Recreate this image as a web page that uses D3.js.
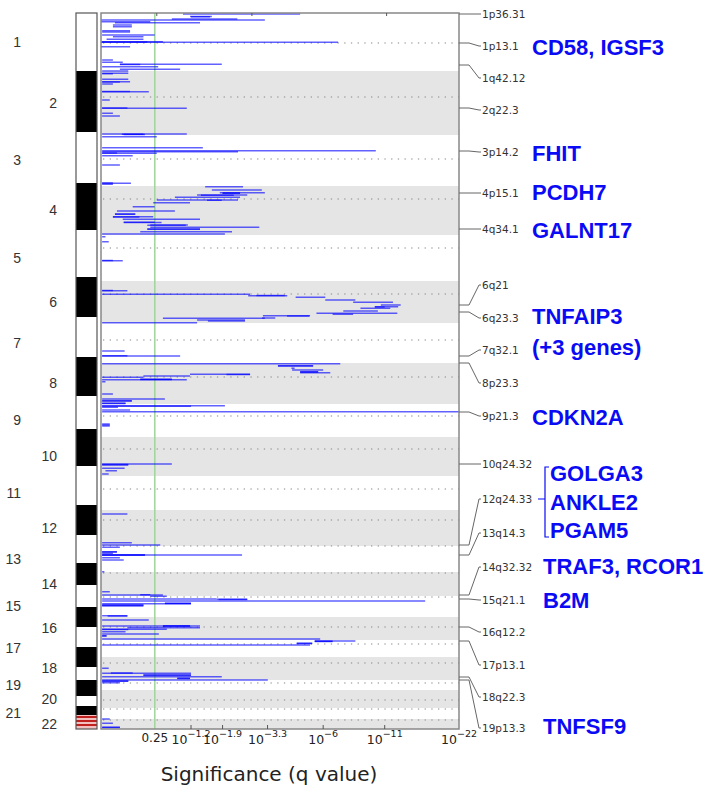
<!DOCTYPE html>
<html>
<head>
<meta charset="utf-8">
<script src="https://cdn.jsdelivr.net/npm/d3@7"></script>
<style>
body{margin:0;background:#fff;}
svg text{font-family:"DejaVu Sans",sans-serif;}
</style>
</head>
<body>
<svg id="chart" width="712" height="792"></svg>
<script>
// genome position in marker units (0..2864), score = -log10(q)
var chromEnds=[232,488,692,888,1072,1240,1400,1564,1696,1852,1988,2132,2236,2332,2416,2508,2576,2668,2708,2780,2824,2864];
var centromeres=[120,336,584,744,940,1124,1308,1456,1612,1744,1904,2028,2132,2240,2336,2456,2524,2600,2680,2748,2784,2828];
var ideoEnds=[232,476,680,868,1056,1216,1376,1532,1664,1812,1968,2088,2200,2288,2376,2456,2536,2616,2668,2732,2772,2808];
var ideoStripes=[2816,2832,2848];

// [position, score from, score to]
var segs=[
 [4,1.05,4.72],[14,1.18,1.64],[15,1.2,1.6],[24,0.86,2.3],[28,0,3.2],[35,0,0.54],[39,0.13,1.38],[48,0.11,0.31],[55,0.11,0.31],
 [71,0.01,0.29],[76,0.01,0.29],[88,0.01,0.6],[95,0.11,0.45],[105,0.05,0.45],[115,0.01,0.72],[116,0,0.5],[117,0,6.98],[135,0,0.29],
 [188,0.01,0.11],[197,0.01,0.21],[205,0.18,1.88],[206,0.18,0.41],[215,0.01,0.65],[225,0.18,1.0],[232,0.01,0.27],
 [241,0.01,0.27],[243,0.01,0.11],[265,0.01,0.27],[275,0.01,0.29],[276,0.01,0.18],[284,0.01,0.11],[314,0.01,0.29],[315,0.01,0.52],
 [348,0.01,0.08],[380,0.01,0.26],[381,0.01,1.12],[401,0.01,0.11],[412,0.01,0.18],
 [484,0.01,1.12],[485,0.2,0.45],[486,0.22,0.47],[495,0.01,0.63],[539,0.01,1.44],[551,0.01,10.1],[555,0.01,2.32],[560,0.01,0.15],
 [561,0.01,0.63],[571,0.01,0.32],[608,0.01,0.18],[680,0.01,0.11],[681,0.01,0.3],[685,0.01,0.11],
 [695,1.49,2.47],[708,1.64,3.09],[719,1.83,3.2],[720,1.9,2.38],[721,1.9,2.38],[728,1.32,2.6],[729,1.4,2.2],[737,0.91,2.38],
 [748,0.63,2.32],[749,1.53,1.88],[759,0.58,1.18],[775,0.32,0.6],[792,0.15,0.91],[804,0.13,0.35],[805,0.13,0.35],[815,0.11,0.58],
 [816,0.11,0.4],[825,0.21,1.38],[837,0.22,0.6],[838,0.22,0.7],[848,0.54,1.14],[849,0.5,1.1],[857,0.54,3.0],[864,0.5,1.38],
 [865,0.5,1.38],[875,0.41,2.15],[884,0.01,1.96],[895,0.01,0.04],[915,0.01,0.07],
 [990,0.01,0.11],[991,0.01,0.21],
 [1110,0.01,0.11],[1111,0.01,0.26],[1125,0.01,2.69],[1130,2.9,4.0],[1131,2.63,4.11],[1137,4.5,6.13],[1148,6.13,8.28],
 [1157,8.1,11.9],[1168,10.6,12.8],[1175,10.0,12.5],[1176,10.0,11.0],[1181,8.7,11.6],[1192,7.35,10.3],[1201,5.6,12.4],
 [1205,6.6,8.1],[1211,3.13,5.24],[1212,4.1,5.2],[1220,3.1,3.6],[1221,0.72,3.2],[1228,1.32,2.53],[1232,1.55,2.53],[1239,0.01,1.32],
 [1352,0.01,0.23],[1371,0.01,0.26],[1372,0.01,1.0],
 [1403,0.01,7.13],[1411,3.71,5.41],[1412,3.71,5.41],[1421,4.3,4.45],[1428,4.33,6.0],[1435,4.72,5.7],[1436,4.72,5.7],
 [1439,4.72,6.45],[1445,1.18,2.69],[1446,2.0,2.69],[1452,0.45,1.18],[1457,0.01,0.45],[1465,0.41,0.86],[1466,0.41,0.86],
 [1467,0.01,1.12],[1475,0.01,0.04],[1524,0.01,0.11],[1544,0.01,0.75],[1551,0.01,0.31],[1552,0.01,0.31],[1561,0.01,0.24],
 [1562,0.01,0.24],[1571,0.01,1.96],[1573,0.01,1.2],
 [1577,0.01,0.16],[1588,0.01,0.29],[1595,0.01,22],[1644,0.01,0.08],[1648,0.01,0.08],[1652,0.01,0.08],
 [1804,0.01,0.86],[1806,0.01,0.27],[1808,0.01,0.27],[1821,0.01,0.23],[1831,0.04,0.15],[1844,0.01,0.07],
 [2004,0.01,0.26],[2119,0.01,0.31],[2128,0.01,0.68],
 [2137,0.01,0.18],[2155,0.01,0.15],[2156,0.01,0.15],[2161,0.01,0.11],[2167,0.01,0.47],[2168,0.01,2.44],[2169,0.01,0.47],
 [2179,0.01,0.18],[2188,0.01,0.22],[2235,0.01,0.03],
 [2315,0.01,0.08],[2327,0.41,0.54],[2328,0.01,0.72],
 [2333,0.54,0.78],[2344,0.01,1.75],[2345,1.75,2.6],[2346,1.8,2.6],[2352,0.01,16.1],[2361,0.75,1.2],[2362,0.75,1.2],
 [2363,0.01,1.2],[2368,0.01,0.45],[2369,0.01,0.45],[2372,0.01,0.45],
 [2411,0.01,0.26],[2412,0.06,0.26],[2428,0.01,0.52],[2451,0.72,1.18],[2452,0.01,1.38],[2453,0.72,1.18],[2459,0.26,1.38],
 [2465,0.01,0.78],[2466,0.01,0.27],[2475,0.01,0.24],[2484,0.01,0.66],[2491,0.01,0.05],[2492,0.01,0.05],
 [2504,0.01,5.82],[2512,5.5,8.28],[2513,5.5,6.6],[2514,5.5,6.6],[2521,4.55,5.36],[2522,4.55,5.36],[2528,0.01,5.24],
 [2621,0.01,0.07],[2640,0.09,0.32],[2641,0.01,1.2],[2648,0.45,1.2],[2649,0.45,1.2],[2655,0.01,1.88],[2661,0.95,1.18],
 [2662,0.95,1.18],[2668,0.01,3.31],[2672,0.01,0.27],[2673,0.01,0.27],
 [2679,0.01,0.18],
 [2824,0.01,0.08],[2841,0.01,0.11],[2857,0.01,0.18],[2858,0.01,0.18]
];

// [cytoband, peak position, label position]
var peaks=[
 ['1p36.31',4,4],['1p13.1',120,132],['1q42.12',208,260],['2q22.3',380,388],['3p14.2',552,556],
 ['4p15.1',720,720],['4q34.1',864,864],['6q21',1168,1088],['6q23.3',1196,1220],['7q32.1',1372,1348],
 ['8p23.3',1400,1480],['9p21.3',1596,1612],['10q24.32',1804,1804],['12q24.33',2128,1944],['13q14.3',2168,2080],
 ['14q32.32',2328,2216],['15q21.1',2344,2348],['16q12.2',2456,2476],['17p13.1',2512,2608],['18q22.3',2656,2736],
 ['19p13.3',2668,2860]
];
var genes=[
 ['CD58, IGSF3',136,0],['FHIT',560,0],['PCDH7',716,0],['GALNT17',868,0],['TNFAIP3',1212,0],['(+3 genes)',1336,0],
 ['CDKN2A',1616,0],['GOLGA3',1840,2],['ANKLE2',1956,2],['PGAM5',2068,2],['TRAF3, RCOR1',2212,1],['B2M',2348,1],['TNFSF9',2852,1]
];
var qThreshold=0.602;
var qTicks=[1.2,1.9,3.3,6,11,22];
var qTickLabels=['−1.2','−1.9','−3.3','−6','−11','−22'];
var topTicks=[0.63,2.75,11.2];

var svg=d3.select('#chart');
var pLeft=101,pRight=459,pTop=13,pBottom=729;

var y=d3.scaleLinear().domain([0,2864]).range([pTop,pBottom]);
var x=d3.scaleSymlog().constant(1).domain([0,22]).range([pLeft,pRight]);

var chroms=chromEnds.map(function(e,i){
    return {n:i+1,start:i==0?0:chromEnds[i-1],end:e};
});

// gray bands for even chromosomes
svg.append('g').selectAll('rect')
.data(chroms.filter(function(d){return d.n%2==0;}))
.enter().append('rect')
.attr('x',pLeft).attr('width',pRight-pLeft)
.attr('y',function(d){return y(d.start);})
.attr('height',function(d){return y(d.end)-y(d.start);})
.style('fill','#e5e5e5');

// centromere dotted lines
svg.append('g').selectAll('line')
.data(centromeres).enter().append('line')
.attr('x1',pLeft+2).attr('x2',pRight)
.attr('y1',function(d){return y(d);}).attr('y2',function(d){return y(d);})
.style('stroke','#888').style('stroke-width',1.2).style('stroke-dasharray','1.3,5.4');

// q = 0.25 line
svg.append('line')
.attr('x1',x(qThreshold)).attr('x2',x(qThreshold))
.attr('y1',pTop).attr('y2',pBottom)
.style('stroke','#9fd49a').style('stroke-width',1.5);

// significance profile
svg.append('g').selectAll('line')
.data(segs).enter().append('line')
.attr('x1',function(d){return x(d[1]);})
.attr('x2',function(d){return x(d[2]);})
.attr('y1',function(d){return y(d[0]);})
.attr('y2',function(d){return y(d[0]);})
.style('stroke','#0000ff').style('stroke-width',1.5).style('stroke-opacity',0.62);

// frame
svg.append('rect')
.attr('x',pLeft).attr('y',pTop).attr('width',pRight-pLeft).attr('height',pBottom-pTop)
.style('fill','none').style('stroke','#888').style('stroke-width',1.5);

// ticks
svg.append('g').selectAll('line')
.data(qTicks.slice(0,5)).enter().append('line')
.attr('x1',function(d){return x(d);}).attr('x2',function(d){return x(d);})
.attr('y1',pBottom).attr('y2',pBottom-4)
.style('stroke','#555');
svg.append('g').selectAll('line')
.data(topTicks).enter().append('line')
.attr('x1',function(d){return x(d);}).attr('x2',function(d){return x(d);})
.attr('y1',pTop).attr('y2',pTop+3)
.style('stroke','#555');

// tick labels
svg.append('text')
.attr('x',x(qThreshold)).attr('y',742)
.attr('text-anchor','middle')
.style('font-size','12px').style('fill','#222')
.text('0.25');
var tl=svg.append('g').selectAll('text')
.data(qTicks).enter().append('text')
.attr('x',function(d){return x(d);}).attr('y',744)
.attr('text-anchor','middle')
.style('font-size','12.5px').style('fill','#222');
tl.append('tspan').text('10');
tl.append('tspan')
.attr('dy',-7).style('font-size','9.5px')
.text(function(d,i){return qTickLabels[i];});

svg.append('text')
.attr('x',269).attr('y',781)
.attr('text-anchor','middle')
.style('font-size','20px').style('fill','#222')
.text('Significance (q value)');

// ideogram
var ideo=ideoEnds.map(function(e,i){
    return {n:i+1,start:i==0?0:ideoEnds[i-1],end:e};
});
svg.append('g').selectAll('rect')
.data(ideo).enter().append('rect')
.attr('x',76).attr('width',21)
.attr('y',function(d){return y(d.start);})
.attr('height',function(d){return y(d.end)-y(d.start);})
.style('fill',function(d){return d.n%2==0?'#000':'#fff';});
svg.append('rect')
.attr('x',76).attr('width',21)
.attr('y',y(ideoEnds[ideoEnds.length-1]))
.attr('height',pBottom-y(ideoEnds[ideoEnds.length-1]))
.style('fill','#f3c0c0');
svg.append('g').selectAll('line')
.data(ideoStripes).enter().append('line')
.attr('x1',76).attr('x2',97)
.attr('y1',function(d){return y(d);}).attr('y2',function(d){return y(d);})
.style('stroke','#c02020').style('stroke-width',2);
svg.append('rect')
.attr('x',76).attr('y',pTop).attr('width',21).attr('height',pBottom-pTop)
.style('fill','none').style('stroke','#555').style('stroke-width',1.2);

// chromosome numbers
svg.append('g').selectAll('text')
.data(chroms).enter().append('text')
.attr('x',function(d){return d.n%2==1?21:57;})
.attr('y',function(d){return y((d.start+d.end)/2);})
.attr('dy','0.35em')
.attr('text-anchor','end')
.style('font-family','"Liberation Sans",Arial,sans-serif')
.style('font-size','14px').style('fill','#333')
.text(function(d){return d.n;});

// cytoband labels with connectors
svg.append('g').selectAll('path')
.data(peaks).enter().append('path')
.attr('d',function(d){
    var a=y(d[1]),b=y(d[2]);
    return 'M'+pRight+','+a+'H'+(pRight+10)+'L'+(pRight+20)+','+b+'H'+(pRight+22);
})
.style('fill','none').style('stroke','#666').style('stroke-width',1);
svg.append('g').selectAll('text')
.data(peaks).enter().append('text')
.attr('x',pRight+23)
.attr('y',function(d){return y(d[2]);})
.attr('dy','0.35em')
.style('font-size','10.5px').style('fill','#333')
.text(function(d){return d[0];});

// gene names
var geneX=[532,543,550];
svg.append('g').selectAll('text')
.data(genes).enter().append('text')
.attr('x',function(d){return geneX[d[2]];})
.attr('y',function(d){return y(d[1]);})
.attr('dy','0.36em')
.style('font-family','"Liberation Sans",Arial,sans-serif')
.style('font-weight','bold')
.style('font-size','22px').style('fill','#0a0af5')
.text(function(d){return d[0];});

// bracket for the 12q24.33 genes
var by0=y(genes[7][1])-6,by1=y(genes[9][1])+7,bm=y(1944);
svg.append('path')
.attr('d','M549,'+by0+'H545V'+by1+'H549M545,'+bm+'H538')
.style('fill','none').style('stroke','#0a0af5').style('stroke-width',1.2);
</script>
</body>
</html>
